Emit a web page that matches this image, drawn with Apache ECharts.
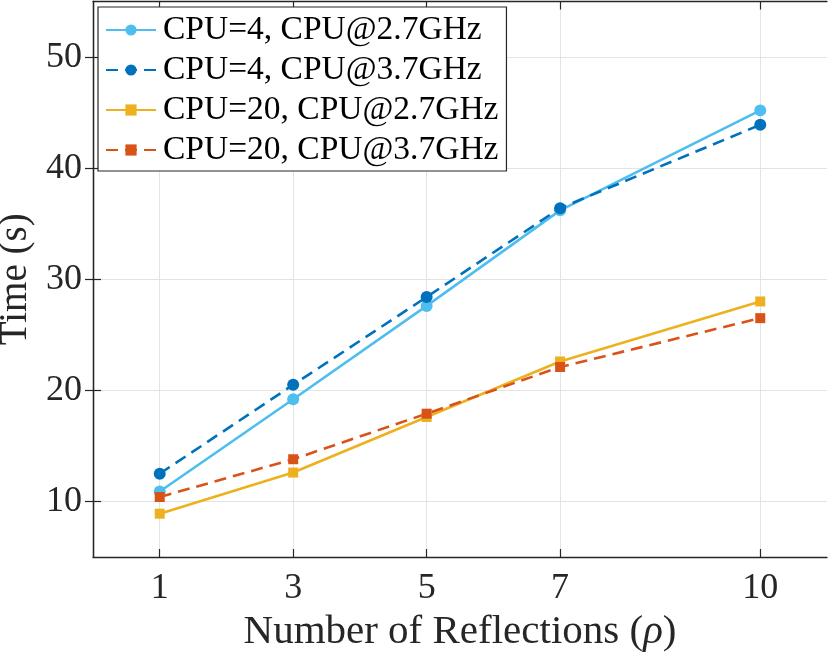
<!DOCTYPE html>
<html>
<head>
<meta charset="utf-8">
<script src="https://cdn.jsdelivr.net/npm/echarts@6/dist/echarts.min.js"></script>
<style>
html,body{margin:0;padding:0;background:#fff}
#main{width:830px;height:660px}
</style>
</head>
<body>
<div id="main"></div>
<script>
// number of reflections
var reflections=[1,3,5,7,10];
var xTicks=[1,3,5,7,10];
var yTicks=[10,20,30,40,50];
var names=['CPU=4, CPU@2.7GHz','CPU=4, CPU@3.7GHz','CPU=20, CPU@2.7GHz','CPU=20, CPU@3.7GHz'];
var cpu4_27=[10.9,19.2,27.6,36.2,45.2];
var cpu4_37=[12.5,20.5,28.4,36.4,43.9];
var cpu20_27=[8.9,12.6,17.6,22.6,28.0];
var cpu20_37=[10.4,13.8,17.9,22.1,26.5];

var font='"Liberation Serif","Times New Roman",serif';
var axisCol='#262626';

function pairs(ys){
  var out=[];
  for(var i=0;i<reflections.length;i++) out.push([reflections[i],ys[i]]);
  return out;
}
function mkSeries(name,ys,color,symbol,size,dashed){
  return {
    name:name,
    type:'line',
    data:pairs(ys),
    symbol:symbol,
    symbolSize:size,
    showAllSymbol:true,
    lineStyle:{color:color,width:2.6,type:dashed?[12,7]:'solid'},
    itemStyle:{color:color},
    emphasis:{disabled:true},
    animation:false
  };
}

var chart=echarts.init(document.getElementById('main'));
var tickStyle={show:true,inside:true,length:8,lineStyle:{color:axisCol,width:1.2}};
var lineStyle={show:true,lineStyle:{color:axisCol,width:1.3}};
var option={
  backgroundColor:'#fff',
  animation:false,
  grid:{left:93,right:3,top:1.5,bottom:103,outerBoundsMode:'none',containLabel:false},
  legend:{
    orient:'vertical',
    left:98,top:7,
    padding:[6,8,4,7],
    itemWidth:50,itemHeight:14,itemGap:6,
    backgroundColor:'#fff',
    borderColor:axisCol,borderWidth:1.2,borderRadius:0,
    textStyle:{fontFamily:font,fontSize:33.5,color:'#000',lineHeight:33,padding:[0,0,0,2]},
    data:names
  },
  xAxis:[{
    type:'value',min:0,max:11,position:'bottom',
    axisLine:lineStyle,
    axisTick:Object.assign({customValues:xTicks},tickStyle),
    axisLabel:{customValues:xTicks,fontFamily:font,fontSize:36,color:axisCol,margin:14},
    splitLine:{show:true,lineStyle:{color:'#e3e3e3',width:1}},
    name:'Number of Reflections ({i|\u03c1})',
    nameLocation:'middle',nameGap:54,
    nameTextStyle:{fontFamily:font,fontSize:41,color:axisCol,
      rich:{i:{fontFamily:font,fontSize:41,fontStyle:'italic',color:axisCol}}}
  },{
    type:'value',min:0,max:11,position:'top',
    axisLine:lineStyle,
    axisTick:Object.assign({customValues:xTicks},tickStyle),
    axisLabel:{show:false},
    splitLine:{show:false}
  }],
  yAxis:[{
    type:'value',min:5,max:55,position:'left',
    axisLine:lineStyle,
    axisTick:Object.assign({customValues:yTicks},tickStyle),
    axisLabel:{customValues:yTicks,fontFamily:font,fontSize:36,color:axisCol,margin:11},
    splitLine:{show:true,lineStyle:{color:'#e3e3e3',width:1}},
    name:'Time (s)',
    nameLocation:'middle',nameGap:52,
    nameTextStyle:{fontFamily:font,fontSize:39,color:axisCol}
  },{
    type:'value',min:5,max:55,position:'right',
    axisLine:lineStyle,
    axisTick:Object.assign({customValues:yTicks},tickStyle),
    axisLabel:{show:false},
    splitLine:{show:false}
  }],
  series:[
    mkSeries(names[0],cpu4_27,'#4DBEEE','circle',12,false),
    mkSeries(names[1],cpu4_37,'#0072BD','circle',12,true),
    mkSeries(names[2],cpu20_27,'#EDB120','rect',10,false),
    mkSeries(names[3],cpu20_37,'#D95319','rect',10,true)
  ]
};
chart.setOption(option);
</script>
</body>
</html>
